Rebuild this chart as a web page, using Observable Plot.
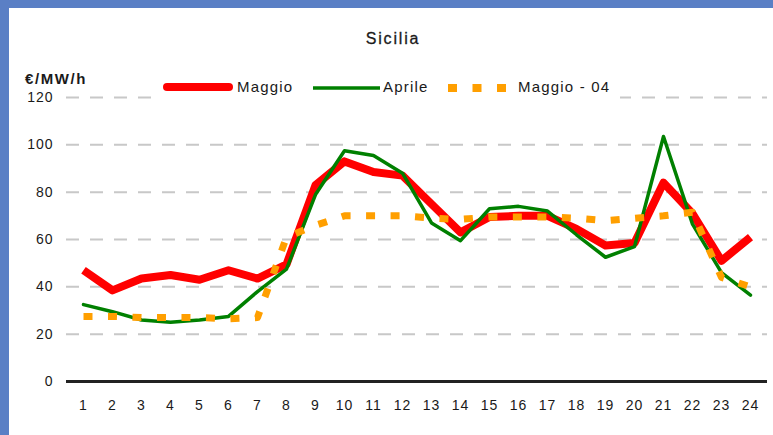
<!DOCTYPE html>
<html>
<head>
<meta charset="utf-8">
<script src="https://cdn.jsdelivr.net/npm/d3@7"></script>
<script src="https://cdn.jsdelivr.net/npm/@observablehq/plot@0.6"></script>
<style>
  html, body { margin: 0; padding: 0; }
  body { width: 773px; height: 435px; overflow: hidden; background: #5a7fc5; font-family: "Liberation Sans", Arial, sans-serif; }
  #wrap { position: relative; width: 773px; height: 435px; }
  #panel { position: absolute; left: 9px; top: 8px; width: 764px; height: 427px; background: #fff; }
  #chart { position: absolute; left: 0; top: 0; }
  #over { position: absolute; left: 0; top: 0; pointer-events: none; }
</style>
</head>
<body>
<div id="wrap">
  <div id="panel"></div>
  <div id="chart"></div>
  <svg id="over" width="773" height="110" xmlns="http://www.w3.org/2000/svg" font-family="Liberation Sans, Arial, sans-serif" fill="#1a1a1a"></svg>
</div>
<script>
const title = "Sicilia";
const unitLabel = "€/MW/h";
const hours = [1, 2, 3, 4, 5, 6, 7, 8, 9, 10, 11, 12, 13, 14, 15, 16, 17, 18, 19, 20, 21, 22, 23, 24];
const maggio   = [47, 38.5, 43.5, 45, 43, 47, 43.5, 49.5, 83, 93, 88.5, 87, 75, 63, 69.5, 70, 70, 64.5, 57.5, 58.5, 84, 71, 51, 61];
const aprile   = [32.5, 29.5, 26, 25, 26, 27.5, 38, 47.5, 79, 97.5, 95.5, 88, 67, 59.5, 73, 74, 72, 62, 52.5, 57, 103.5, 66.5, 46, 36.5];
const maggio04 = [27.5, 27.5, 27, 27, 27, 26.5, 27, 61, 66, 70, 70, 70, 69, 68.5, 69.5, 69.5, 69.5, 69, 68, 69, 70, 71.5, 44, 40];
const seriesNames = ["Maggio", "Aprile", "Maggio - 04"];
const seriesColors = ["#ff0000", "#008000", "#ff9f00"];
const yTicks = [0, 20, 40, 60, 80, 100, 120];
const gridTicks = [20, 40, 60, 80, 100, 120];

const rows = (vals) => hours.map((h, i) => ({hour: h, value: vals[i]}));

const plot = Plot.plot({
  width: 773,
  height: 435,
  marginTop: 97,
  marginBottom: 54,
  marginLeft: 66,
  marginRight: 6,
  style: {background: "transparent", fontFamily: "Liberation Sans, Arial, sans-serif", fontSize: "14px", color: "#1a1a1a", letterSpacing: "1px"},
  x: {type: "point", domain: hours, padding: 0.5, label: null},
  y: {domain: [0, 120], label: null},
  marks: [
    Plot.ruleY(gridTicks, {stroke: "#c8c8c8", strokeWidth: 2, strokeDasharray: "13,11"}),
    Plot.ruleY([0], {stroke: "#222", strokeWidth: 3}),
    Plot.line(rows(maggio), {x: "hour", y: "value", stroke: seriesColors[0], strokeWidth: 8, strokeLinejoin: "round", strokeLinecap: "butt"}),
    Plot.line(rows(aprile), {x: "hour", y: "value", stroke: seriesColors[1], strokeWidth: 3.5, strokeLinejoin: "round"}),
    Plot.line(rows(maggio04), {x: "hour", y: "value", stroke: seriesColors[2], strokeWidth: 7, strokeDasharray: "9,15.5", strokeLinecap: "butt"}),
    Plot.axisX({tickSize: 0, tickPadding: 19, fill: "#1a1a1a"}),
    Plot.axisY({ticks: yTicks, tickSize: 0, tickPadding: 13, fill: "#1a1a1a"})
  ]
});
document.getElementById("chart").appendChild(plot);

// title, unit label and legend (overlay)
const over = d3.select("#over");
over.append("text").attr("x", 393).attr("y", 44).attr("text-anchor", "middle")
  .attr("font-size", 16).attr("letter-spacing", "1.8px").attr("stroke", "#1a1a1a").attr("stroke-width", 0.3).text(title);
over.append("text").attr("x", 25).attr("y", 84).attr("font-size", 15).attr("font-weight", "bold")
  .attr("letter-spacing", "1.6px").text(unitLabel);
over.append("rect").attr("x", 156).attr("y", 76).attr("width", 464).attr("height", 24).attr("fill", "#fff");
const lg = over.append("g").attr("font-size", 15).attr("letter-spacing", "1.2px");
// Maggio
lg.append("line").attr("x1", 167).attr("x2", 229).attr("y1", 87).attr("y2", 87)
  .attr("stroke", seriesColors[0]).attr("stroke-width", 8).attr("stroke-linecap", "round");
lg.append("text").attr("x", 237).attr("y", 92).text(seriesNames[0]);
// Aprile
lg.append("line").attr("x1", 313).attr("x2", 380).attr("y1", 88).attr("y2", 88)
  .attr("stroke", seriesColors[1]).attr("stroke-width", 3.5);
lg.append("text").attr("x", 383).attr("y", 92).text(seriesNames[1]);
// Maggio - 04
lg.append("line").attr("x1", 448).attr("x2", 507).attr("y1", 88).attr("y2", 88)
  .attr("stroke", seriesColors[2]).attr("stroke-width", 8).attr("stroke-dasharray", "9,15.5");
lg.append("text").attr("x", 518).attr("y", 92).text(seriesNames[2]);
</script>
</body>
</html>
